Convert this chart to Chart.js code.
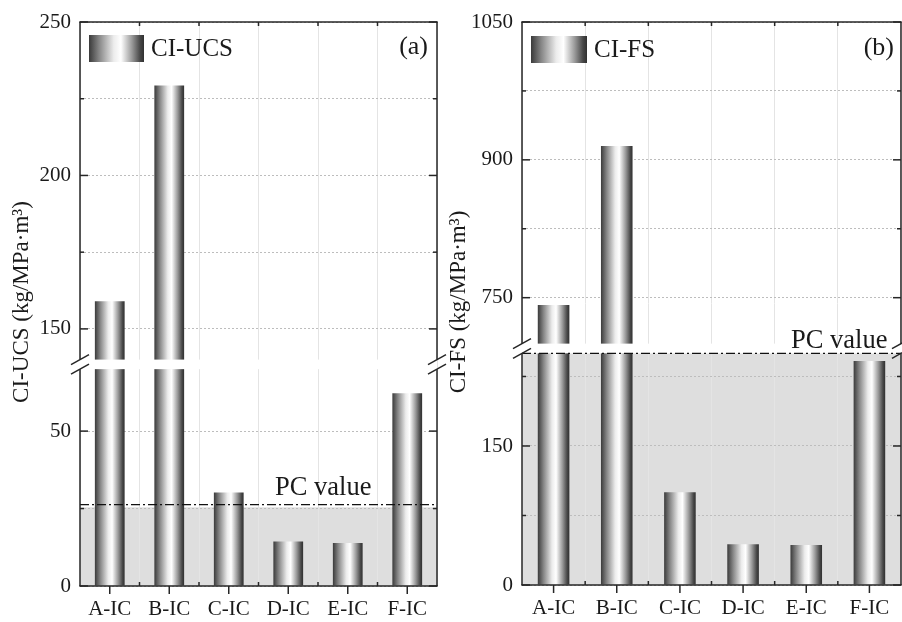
<!DOCTYPE html>
<html>
<head>
<meta charset="utf-8">
<script src="https://cdn.jsdelivr.net/npm/chart.js@4.4.1/dist/chart.umd.min.js"></script>
<style>
  html, body { margin: 0; padding: 0; background: #fff; }
  #wrap { position: relative; width: 902px; height: 622px; overflow: hidden; }
  canvas { position: absolute; top: 0; }
  #chart-a { left: 0; }
  #chart-b { left: 440px; }
</style>
</head>
<body>
<div id="wrap">
  <canvas id="chart-a" width="451" height="622"></canvas>
  <canvas id="chart-b" width="462" height="622"></canvas>
</div>
<script>
const CATEGORIES = ['A-IC', 'B-IC', 'C-IC', 'D-IC', 'E-IC', 'F-IC'];

// CI-UCS (kg/MPa·m³)
const UCS_VALUES = [159, 229.3, 30.2, 14.4, 13.9, 62.2];
const UCS_PC = 26.3;
const UCS_SHADE = 25.4;
const UCS_BREAK = [70, 140];            // lower part ends / upper part starts
const UCS_LOW_RANGE = [0, 71.5];
const UCS_HIGH_RANGE = [138.4, 250];
const UCS_LOW_TICKS = [0, 25, 50];
const UCS_HIGH_TICKS = [150, 175, 200, 225, 250];
const UCS_LABELED = [0, 50, 150, 200, 250];

// CI-FS (kg/MPa·m³)
const FS_VALUES = [742, 915, 100, 43.9, 43.1, 241.6];
const FS_PC = 250;
const FS_SHADE = 250;
const FS_BREAK = [250, 700];
const FS_LOW_RANGE = [0, 255.2];
const FS_HIGH_RANGE = [694.7, 1050];
const FS_LOW_TICKS = [0, 75, 150, 225];
const FS_HIGH_TICKS = [750, 825, 900, 975, 1050];
const FS_LABELED = [0, 150, 750, 900, 1050];

Chart.defaults.font.family = '"Liberation Serif", "Times New Roman", serif';
Chart.defaults.color = '#1a1a1a';
Chart.defaults.animation = false;

const BAR_PCT = 0.5;
const INK = '#262626';

// grey "cylinder" shading across a bar
function cylinder(g, x0, x1) {
  const grad = g.createLinearGradient(x0, 0, x1, 0);
  grad.addColorStop(0, '#3a3a3a');
  grad.addColorStop(0.18, '#858585');
  grad.addColorStop(0.45, '#ececec');
  grad.addColorStop(0.58, '#ffffff');
  grad.addColorStop(0.78, '#9a9a9a');
  grad.addColorStop(0.93, '#474747');
  grad.addColorStop(1, '#303030');
  return grad;
}

function barFill(c) {
  const x = c.chart.scales.x;
  if (!x || c.dataIndex === undefined) return '#888';
  const half = x.width / CATEGORIES.length * BAR_PCT / 2;
  const cx = x.getPixelForValue(c.dataIndex);
  if (!isFinite(cx) || !isFinite(half) || half <= 0) return '#888';
  return cylinder(c.chart.ctx, cx - half, cx + half);
}

function line(ctx, x0, y0, x1, y1) {
  ctx.beginPath();
  ctx.moveTo(x0, y0);
  ctx.lineTo(x1, y1);
  ctx.stroke();
}

const decor = {
  id: 'decor',
  beforeDraw(chart, args, o) {
    // shaded band under the PC value
    const { ctx, chartArea: a } = chart;
    const low = chart.scales.yLow;
    const y0 = low.getPixelForValue(o.shade);
    ctx.save();
    ctx.fillStyle = '#dedede';
    ctx.fillRect(a.left, y0, a.right - a.left, low.getPixelForValue(0) - y0);
    ctx.restore();
  },
  afterDatasetsDraw(chart, args, o) {
    const { ctx, chartArea: a, scales } = chart;
    const { x, yLow, yHigh } = scales;
    const gapTop = yHigh.getPixelForValue(o.breakAt[1]);
    const gapBot = yLow.getPixelForValue(o.breakAt[0]);

    ctx.save();
    // axis break gap
    ctx.fillStyle = '#fff';
    ctx.fillRect(a.left, gapTop, a.right - a.left, gapBot - gapTop);

    // PC value reference line
    const yPc = yLow.getPixelForValue(o.pc);
    ctx.strokeStyle = '#111';
    ctx.lineWidth = 1.3;
    ctx.setLineDash([9, 3, 2, 3]);
    line(ctx, a.left, yPc, a.right, yPc);
    ctx.setLineDash([]);

    // frame
    ctx.strokeStyle = INK;
    ctx.lineWidth = 1.5;
    line(ctx, a.left - 0.75, a.top, a.right + 0.75, a.top);
    line(ctx, a.left - 0.75, a.bottom, a.right + 0.75, a.bottom);
    for (const sx of [a.left, a.right]) {
      line(ctx, sx, a.top, sx, gapTop);
      line(ctx, sx, gapBot, sx, a.bottom);
      // break marks
      for (const yc of [gapTop, gapBot]) line(ctx, sx - 9, yc + 5, sx + 9, yc - 5);
    }

    // y ticks, pointing inwards on both sides
    const yTicks = (scale, values) => {
      for (const v of values) {
        const y = scale.getPixelForValue(v);
        const len = o.labeled.includes(v) ? 8 : 4;
        line(ctx, a.left, y, a.left + len, y);
        line(ctx, a.right, y, a.right - len, y);
      }
    };
    yTicks(yLow, o.lowTicks);
    yTicks(yHigh, o.highTicks);

    // x ticks: major outwards at bars, minor inwards between
    const slot = x.width / CATEGORIES.length;
    CATEGORIES.forEach((c, i) => {
      const cx = x.getPixelForValue(i);
      line(ctx, cx, a.bottom, cx, a.bottom + 8);
    });
    for (let k = 1; k < CATEGORIES.length; k++) {
      const bx = x.left + k * slot;
      line(ctx, bx, a.bottom, bx, a.bottom - 4);
      line(ctx, bx, a.top, bx, a.top + 4);
    }
    ctx.restore();
  },
  afterDraw(chart, args, o) {
    const ctx = chart.ctx;
    const font = '"Liberation Serif", "Times New Roman", serif';
    ctx.save();
    // legend
    const [sx, sy, sw, sh] = o.swatch;
    ctx.fillStyle = cylinder(ctx, sx, sx + sw);
    ctx.fillRect(sx, sy, sw, sh);
    ctx.fillStyle = '#1a1a1a';
    ctx.textBaseline = 'middle';
    ctx.font = '25px ' + font;
    ctx.textAlign = 'left';
    ctx.fillText(o.series, sx + sw + 7, sy + sh / 2 + 1);
    ctx.font = '26px ' + font;
    ctx.textAlign = 'right';
    ctx.fillText(o.tag, o.tagPos[0], o.tagPos[1]);

    // PC value note
    ctx.textAlign = 'left';
    ctx.textBaseline = 'alphabetic';
    ctx.font = '26.5px ' + font;
    ctx.fillText('PC value', o.notePos[0], o.notePos[1]);

    // y title
    ctx.translate(o.titlePos[0], o.titlePos[1]);
    ctx.rotate(-Math.PI / 2);
    ctx.textAlign = 'center';
    ctx.textBaseline = 'middle';
    ctx.font = '23px ' + font;
    ctx.fillText(o.title, 0, 0);
    ctx.restore();
  }
};

function makePanel(canvasId, p) {
  const lowData = p.values.map(v => Math.min(v, p.lowRange[1]));
  const highData = p.values.map(v => (v > p.breakAt[1] ? v : null));

  const yAxis = (range, ticks, weight) => ({
    type: 'linear',
    position: 'left',
    stack: 'y',
    stackWeight: weight,
    min: range[0],
    max: range[1],
    afterBuildTicks: s => { s.ticks = ticks.map(v => ({ value: v })); },
    afterFit: s => { s.width = p.left; },
    ticks: {
      font: { size: 21 },
      padding: 9,
      autoSkip: false,
      callback: v => (p.labeled.includes(v) ? String(v) : '')
    },
    grid: { color: '#bdbdbd', lineWidth: 1, drawTicks: false },
    border: { display: false, dash: [2, 2] }
  });

  const bar = {
    backgroundColor: barFill,
    borderWidth: 0,
    barPercentage: BAR_PCT,
    categoryPercentage: 1,
    grouped: false
  };

  return new Chart(document.getElementById(canvasId), {
    type: 'bar',
    data: {
      labels: CATEGORIES,
      datasets: [
        { ...bar, data: lowData, yAxisID: 'yLow' },
        { ...bar, data: highData, yAxisID: 'yHigh' }
      ]
    },
    options: {
      responsive: false,
      layout: { padding: { top: 22, right: p.right, left: 0, bottom: 0 } },
      plugins: {
        legend: { display: false },
        tooltip: { enabled: false },
        decor: {
          shade: p.shade,
          pc: p.pc,
          breakAt: p.breakAt,
          lowTicks: p.lowTicks,
          highTicks: p.highTicks,
          labeled: p.labeled,
          swatch: p.swatch,
          series: p.series,
          tag: p.tag,
          tagPos: p.tagPos,
          notePos: p.notePos,
          title: p.title,
          titlePos: p.titlePos
        }
      },
      scales: {
        x: {
          type: 'category',
          offset: true,
          grid: { offset: true, color: '#e4e4e4', drawTicks: false },
          border: { display: false },
          ticks: { font: { size: 21 }, padding: 11, maxRotation: 0, autoSkip: false },
          afterFit: s => { s.height = p.bottom; }
        },
        yLow: yAxis(p.lowRange, p.lowTicks, p.lowWeight),
        yHigh: yAxis(p.highRange, p.highTicks, p.highWeight)
      }
    },
    plugins: [decor]
  });
}

makePanel('chart-a', {
  values: UCS_VALUES, pc: UCS_PC, shade: UCS_SHADE, breakAt: UCS_BREAK,
  lowRange: UCS_LOW_RANGE, highRange: UCS_HIGH_RANGE,
  lowTicks: UCS_LOW_TICKS, highTicks: UCS_HIGH_TICKS, labeled: UCS_LABELED,
  lowWeight: 221.5, highWeight: 342.5,
  left: 80, right: 14, bottom: 36,
  swatch: [89, 35, 55, 27], series: 'CI-UCS', tag: '(a)', tagPos: [428, 47],
  notePos: [275, 495],
  title: 'CI-UCS (kg/MPa·m³)', titlePos: [22, 302]
});

makePanel('chart-b', {
  values: FS_VALUES, pc: FS_PC, shade: FS_SHADE, breakAt: FS_BREAK,
  lowRange: FS_LOW_RANGE, highRange: FS_HIGH_RANGE,
  lowTicks: FS_LOW_TICKS, highTicks: FS_HIGH_TICKS, labeled: FS_LABELED,
  lowWeight: 236.5, highWeight: 326.5,
  left: 82, right: 1, bottom: 37,
  swatch: [91, 36, 56, 27], series: 'CI-FS', tag: '(b)', tagPos: [454, 48],
  notePos: [351, 348],
  title: 'CI-FS (kg/MPa·m³)', titlePos: [19, 302]
});
</script>
</body>
</html>
